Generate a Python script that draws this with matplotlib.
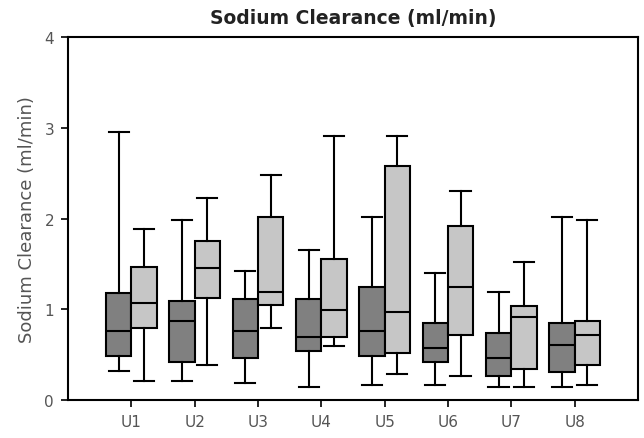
import numpy as np
import matplotlib.pyplot as plt

labels = ['U1', 'U2', 'U3', 'U4', 'U5', 'U6', 'U7', 'U8']

# dark group
dark_lo  = [0.32, 0.21, 0.19, 0.14, 0.16, 0.16, 0.14, 0.14]
dark_q1  = [0.49, 0.42, 0.46, 0.54, 0.49, 0.42, 0.26, 0.31]
dark_med = [0.76, 0.87, 0.76, 0.69, 0.76, 0.57, 0.46, 0.61]
dark_q3  = [1.18, 1.09, 1.11, 1.11, 1.25, 0.85, 0.74, 0.85]
dark_hi  = [2.95, 1.98, 1.42, 1.65, 2.02, 1.40, 1.19, 2.02]

# light group
light_lo  = [0.21, 0.39, 0.79, 0.59, 0.29, 0.26, 0.14, 0.16]
light_q1  = [0.79, 1.12, 1.05, 0.69, 0.52, 0.72, 0.34, 0.39]
light_med = [1.07, 1.45, 1.19, 0.99, 0.97, 1.25, 0.92, 0.72]
light_q3  = [1.47, 1.75, 2.02, 1.55, 2.58, 1.92, 1.04, 0.87]
light_hi  = [1.88, 2.23, 2.48, 2.91, 2.91, 2.30, 1.52, 1.98]

def stats(lo, q1, med, q3, hi):
    return [dict(whislo=a, q1=b, med=c, q3=d, whishi=e, fliers=[])
            for a, b, c, d, e in zip(lo, q1, med, q3, hi)]

fig = plt.figure(figsize=(6.44, 4.39), dpi=100)
ax = fig.add_axes([0.1056, 0.0866, 0.885, 0.8268])

x = np.arange(1, len(labels) + 1)
common = dict(widths=0.4, patch_artist=True, showfliers=False,
              capwidths=0.32,
              boxprops=dict(edgecolor='black', linewidth=1.5),
              medianprops=dict(color='black', linewidth=1.5),
              whiskerprops=dict(color='black', linewidth=1.5),
              capprops=dict(color='black', linewidth=1.5))

b1 = ax.bxp(stats(dark_lo, dark_q1, dark_med, dark_q3, dark_hi),
            positions=x - 0.2, **common)
b2 = ax.bxp(stats(light_lo, light_q1, light_med, light_q3, light_hi),
            positions=x + 0.2, **common)
for p in b1['boxes']:
    p.set_facecolor('#808080')
for p in b2['boxes']:
    p.set_facecolor('#c6c6c6')

ax.set_xlim(0, 9)
ax.set_ylim(0, 4)
ax.set_xticks(x)
ax.set_xticklabels(labels)
ax.set_yticks([0, 1, 2, 3, 4])
ax.tick_params(colors='black', labelcolor='#555555', labelsize=11,
               length=5, width=1.2, direction='out', pad=5)
for s in ax.spines.values():
    s.set_linewidth(1.5)

ax.set_ylabel('Sodium Clearance (ml/min)', color='#555555', fontsize=13,
              labelpad=6)
ax.set_title('Sodium Clearance (ml/min)', fontsize=13.5, fontweight='bold',
             color='#222222', pad=10)

fig.savefig('out.png', dpi=100)
